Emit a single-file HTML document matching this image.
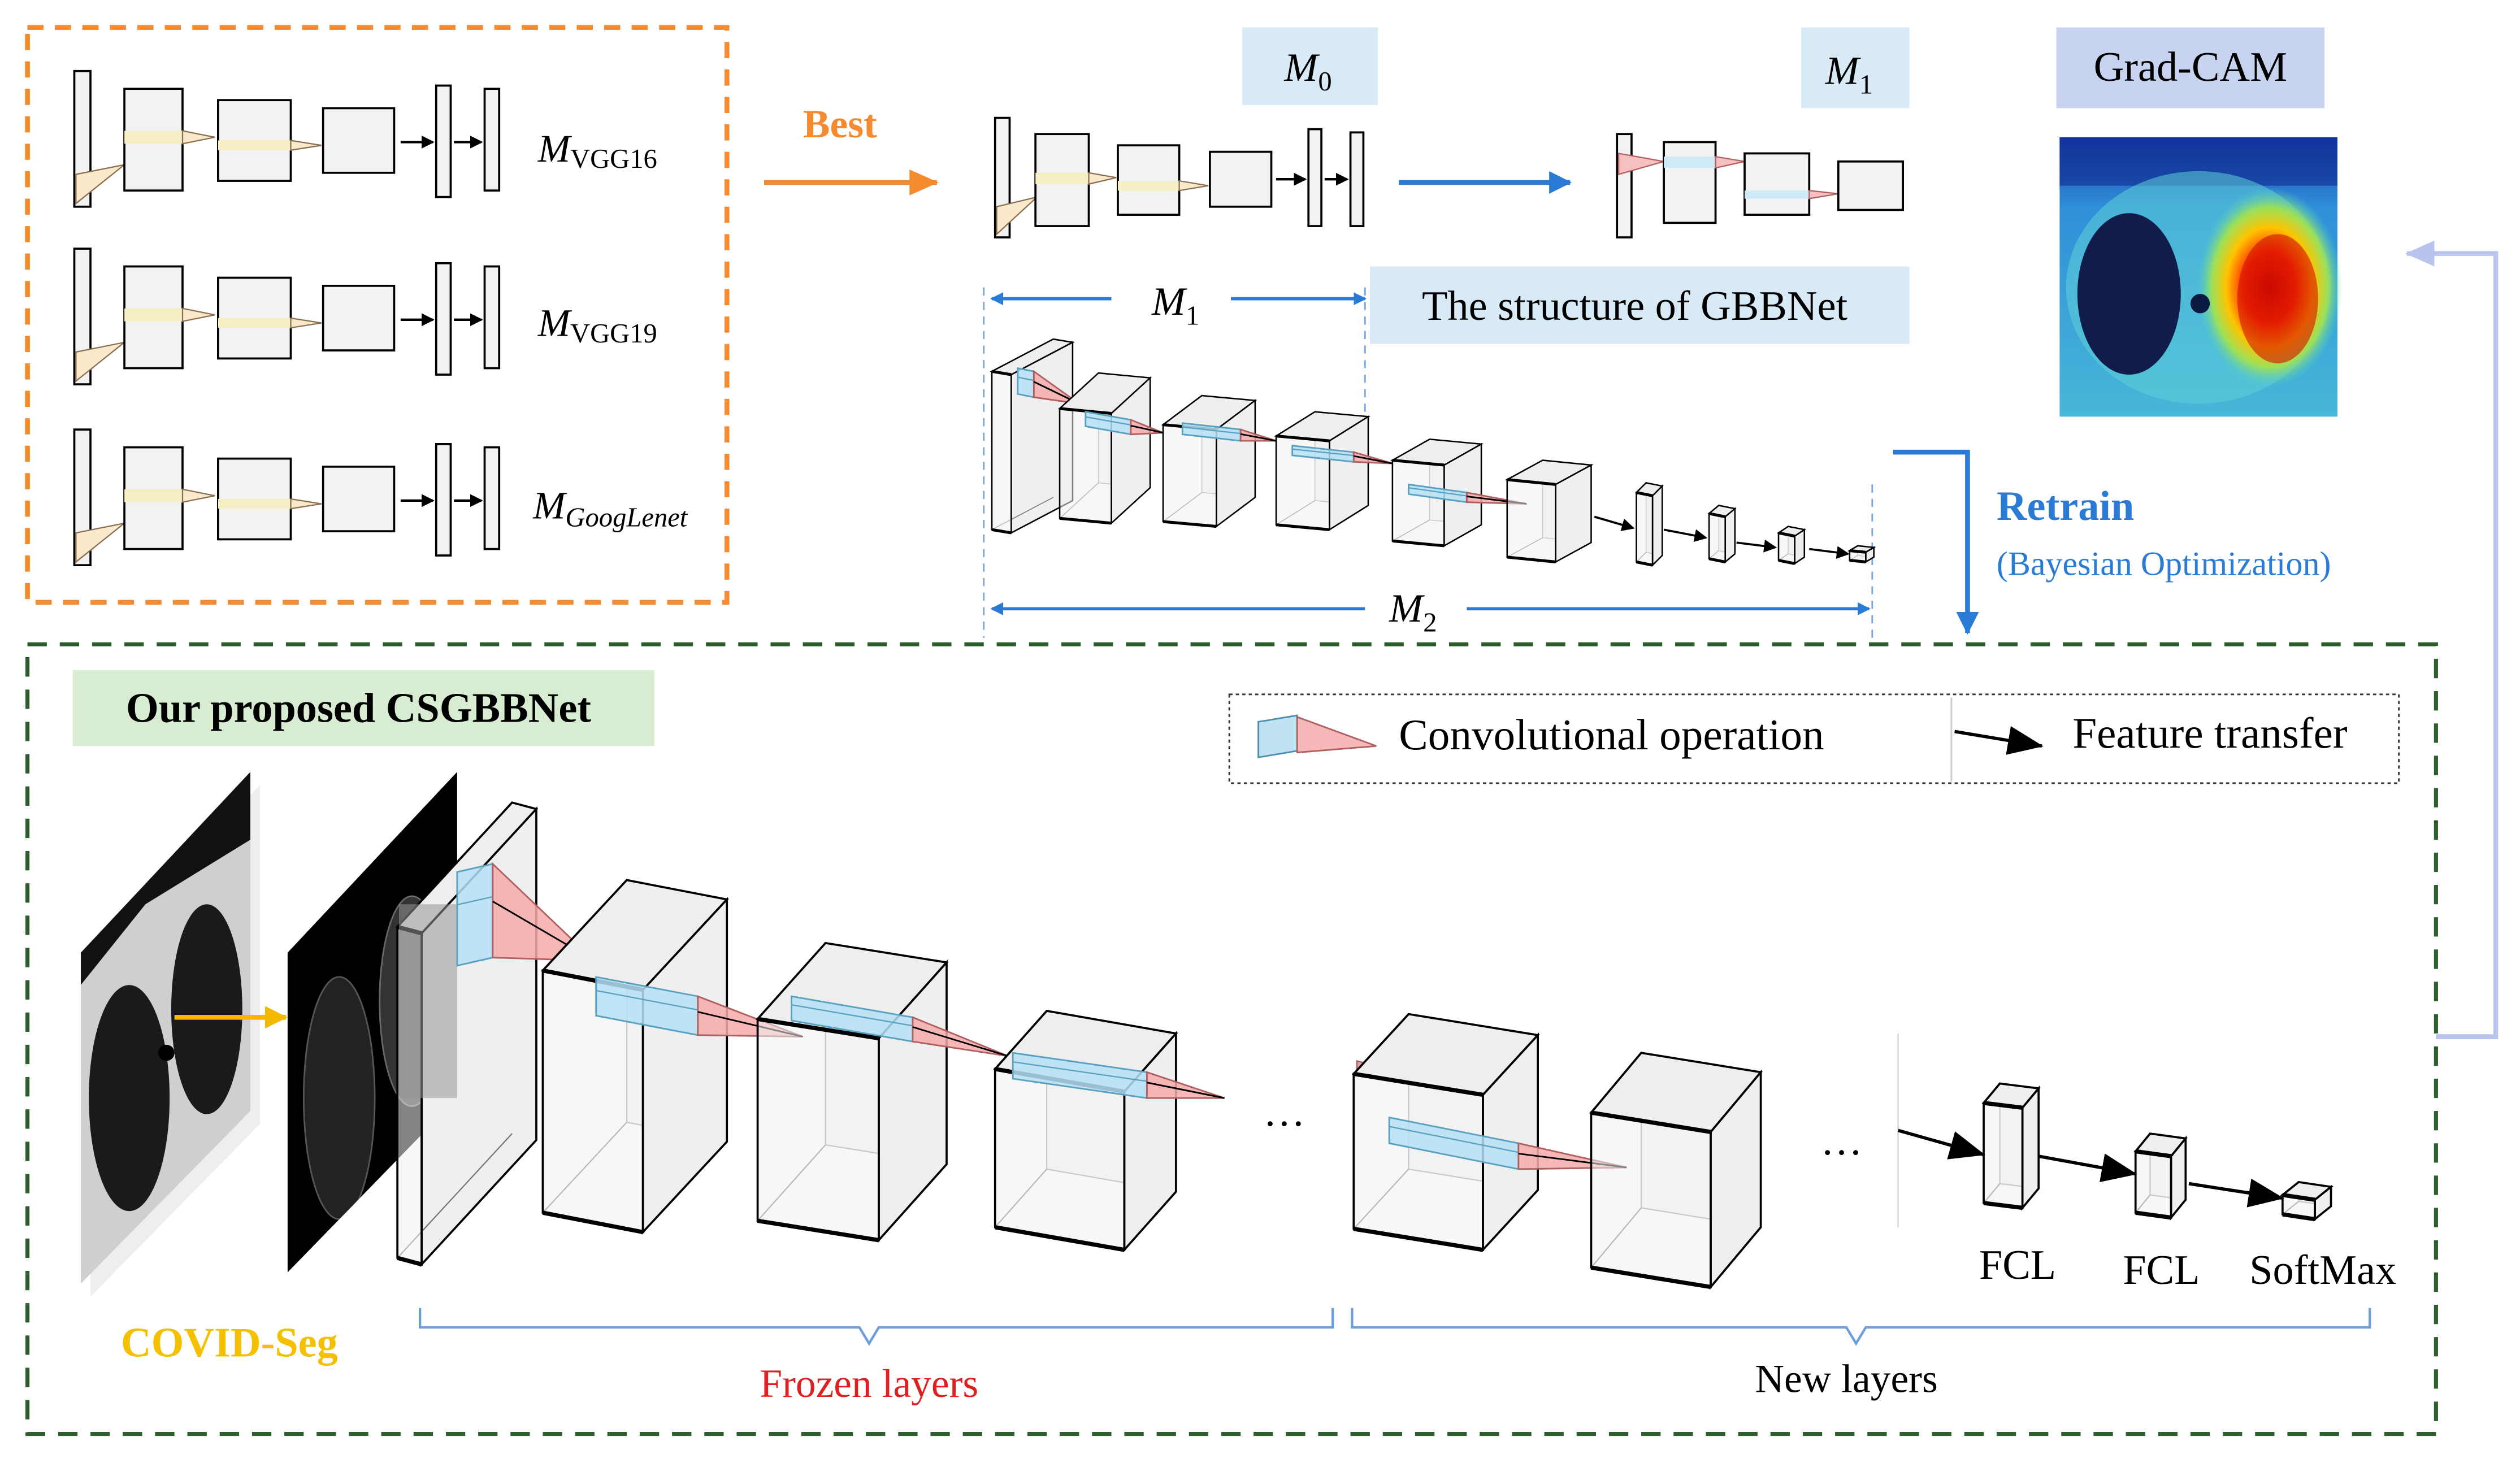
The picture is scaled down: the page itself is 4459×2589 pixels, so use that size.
<!DOCTYPE html>
<html><head><meta charset="utf-8"><style>
html,body{margin:0;padding:0;background:#fff;}
svg{display:block;}
text{font-family:"Liberation Serif",serif;}
</style></head><body>
<svg id="s" width="4459" height="2589" viewBox="0 0 1560 906" preserveAspectRatio="none" xmlns="http://www.w3.org/2000/svg">
<defs>
<marker id="ab" markerWidth="8" markerHeight="8" refX="7" refY="4" orient="auto" markerUnits="userSpaceOnUse"><path d="M0,0 L8,4 L0,8 z" fill="#2a7bd6"/></marker>
<marker id="abl" markerWidth="14" markerHeight="14" refX="13" refY="7" orient="auto" markerUnits="userSpaceOnUse"><path d="M0,0 L14,7 L0,14 z" fill="#2a7bd6"/></marker>
<marker id="ao" markerWidth="18" markerHeight="16" refX="17" refY="8" orient="auto" markerUnits="userSpaceOnUse"><path d="M0,0 L18,8 L0,16 z" fill="#f58a2e"/></marker>
<marker id="al" markerWidth="18" markerHeight="16" refX="17" refY="8" orient="auto" markerUnits="userSpaceOnUse"><path d="M0,0 L18,8 L0,16 z" fill="#b8c4ee"/></marker>
<marker id="ak" markerWidth="22" markerHeight="18" refX="21" refY="9" orient="auto" markerUnits="userSpaceOnUse"><path d="M0,0 L22,9 L0,18 z" fill="#000"/></marker>
<marker id="aks" markerWidth="8" markerHeight="8" refX="7" refY="4" orient="auto" markerUnits="userSpaceOnUse"><path d="M0,0 L8,4 L0,8 z" fill="#000"/></marker>
<marker id="ay" markerWidth="14" markerHeight="14" refX="13" refY="7" orient="auto" markerUnits="userSpaceOnUse"><path d="M0,0 L14,7 L0,14 z" fill="#f5b800"/></marker>
<radialGradient id="hot" cx="0.5" cy="0.5" r="0.5">
<stop offset="0" stop-color="#c00000"/><stop offset="0.35" stop-color="#ff2a00"/><stop offset="0.6" stop-color="#ffc400"/><stop offset="0.8" stop-color="#9be05a"/><stop offset="1" stop-color="#4fd0c8" stop-opacity="0"/></radialGradient>
<linearGradient id="gbg" x1="0" y1="0" x2="0" y2="1"><stop offset="0" stop-color="#1a3fb0"/><stop offset="0.25" stop-color="#2f8fd8"/><stop offset="1" stop-color="#46b8d8"/></linearGradient>
<clipPath id="ctc"><polygon points="50,590 155,478 155,688 50,795"/></clipPath>
<clipPath id="bkc"><polygon points="178,590 283,478 283,680 178,788"/></clipPath>
</defs>

<rect x="17" y="17" width="433" height="356" fill="none" stroke="#f58a2e" stroke-width="3" stroke-dasharray="10,7"/>
<rect x="17" y="399" width="1491" height="489" fill="none" stroke="#2d5e2d" stroke-width="2.5" stroke-dasharray="12,8"/>

<g id="rows"></g>
<text x="333" y="100" font-size="24" font-style="italic">M</text><text x="353" y="104" font-size="17">VGG16</text>
<text x="333" y="208" font-size="24" font-style="italic">M</text><text x="353" y="212" font-size="17">VGG19</text>
<text x="330" y="321" font-size="24" font-style="italic">M</text><text x="350" y="326" font-size="17" font-style="italic">GoogLenet</text>

<text x="520" y="85" font-size="25" font-weight="bold" fill="#f58a2e" text-anchor="middle" font-family="Liberation Sans">Best</text>
<line x1="473" y1="113" x2="580" y2="113" stroke="#f58a2e" stroke-width="3" marker-end="url(#ao)"/>

<rect x="769" y="17" width="84" height="48" fill="#d9eaf7"/>
<text x="795" y="50" font-size="25" font-style="italic">M</text><text x="816" y="56" font-size="17">0</text>
<rect x="1115" y="17" width="67" height="50" fill="#d9eaf7"/>
<text x="1130" y="52" font-size="25" font-style="italic">M</text><text x="1151" y="58" font-size="17">1</text>
<rect x="1273" y="17" width="166" height="50" fill="#c8d3f0"/>
<text x="1356" y="50" font-size="26" text-anchor="middle">Grad-CAM</text>

<g id="mid"></g>
<line x1="866" y1="113" x2="972" y2="113" stroke="#2a7bd6" stroke-width="3" marker-end="url(#abl)"/>

<g>
<rect x="1275" y="85" width="172" height="173" fill="url(#gbg)"/>
<rect x="1275" y="85" width="172" height="30" fill="#0d2a8e" opacity="0.6"/>
<ellipse cx="1361" cy="178" rx="82" ry="72" fill="#5fd0d8" opacity="0.55"/>
<ellipse cx="1318" cy="182" rx="32" ry="50" fill="#101c4a"/>
<ellipse cx="1405" cy="178" rx="45" ry="62" fill="url(#hot)"/>
<ellipse cx="1410" cy="185" rx="25" ry="40" fill="#d01000" opacity="0.6"/>
<circle cx="1362" cy="188" r="6" fill="#0a1a40"/>
</g>

<line x1="688" y1="185" x2="614" y2="185" stroke="#2a7bd6" stroke-width="2" marker-end="url(#ab)"/>
<line x1="762" y1="185" x2="845" y2="185" stroke="#2a7bd6" stroke-width="2" marker-end="url(#ab)"/>
<text x="713" y="195" font-size="25" font-style="italic">M</text><text x="734" y="201" font-size="17">1</text>
<line x1="609" y1="178" x2="609" y2="395" stroke="#7aa6dc" stroke-width="1" stroke-dasharray="5,4"/>
<line x1="845" y1="178" x2="845" y2="255" stroke="#7aa6dc" stroke-width="1" stroke-dasharray="5,4"/>
<line x1="1159" y1="300" x2="1159" y2="395" stroke="#7aa6dc" stroke-width="1" stroke-dasharray="5,4"/>
<rect x="848" y="165" width="334" height="48" fill="#d9eaf7"/>
<text x="1012" y="198" font-size="26" text-anchor="middle">The structure of GBBNet</text>

<g id="small"></g>

<line x1="845" y1="377" x2="614" y2="377" stroke="#2a7bd6" stroke-width="2" marker-end="url(#ab)"/>
<line x1="908" y1="377" x2="1157" y2="377" stroke="#2a7bd6" stroke-width="2" marker-end="url(#ab)"/>
<text x="860" y="385" font-size="25" font-style="italic">M</text><text x="881" y="391" font-size="17">2</text>

<polyline points="1172,280 1218,280 1218,392" fill="none" stroke="#2a7bd6" stroke-width="3" marker-end="url(#abl)"/>
<text x="1236" y="322" font-size="26" font-weight="bold" fill="#2a7bd6">Retrain</text>
<text x="1236" y="356" font-size="21" fill="#2a7bd6">(Bayesian Optimization)</text>

<polyline points="1508,642 1545,642 1545,157 1490,157" fill="none" stroke="#b8c4ee" stroke-width="3" marker-end="url(#al)"/>

<rect x="45" y="415" width="360" height="47" fill="#d8ecd2"/>
<text x="222" y="447" font-size="26" font-weight="bold" text-anchor="middle">Our proposed CSGBBNet</text>

<rect x="761" y="430" width="724" height="55" fill="none" stroke="#333" stroke-width="1" stroke-dasharray="2,2"/>
<line x1="1208" y1="432" x2="1208" y2="484" stroke="#ccc" stroke-width="1"/>
<polygon points="779,447 803,443 803,465 779,469" fill="#bfe3f2" stroke="#4a8fb0" stroke-width="1"/>
<polygon points="803,444 803,466 852,462" fill="#f6b8b8" stroke="#b06060" stroke-width="1"/>
<text x="866" y="464" font-size="27">Convolutional operation</text>
<line x1="1210" y1="453" x2="1264" y2="462" stroke="#000" stroke-width="2" marker-end="url(#ak)"/>
<text x="1283" y="463" font-size="27">Feature transfer</text>

<polygon points="56,598 161,486 161,696 56,803" fill="#ddd" opacity="0.5"/>
<g clip-path="url(#ctc)">
<rect x="40" y="470" width="130" height="340" fill="#cfcfcf"/>
<polygon points="50,470 155,470 155,520 90,560 50,610" fill="#111"/>
<ellipse cx="80" cy="680" rx="25" ry="70" fill="#1a1a1a"/>
<ellipse cx="128" cy="625" rx="22" ry="65" fill="#1a1a1a"/>
<circle cx="103" cy="652" r="5" fill="#000"/>
</g>
<line x1="108" y1="630" x2="177" y2="630" stroke="#f5b800" stroke-width="3" marker-end="url(#ay)"/>
<g clip-path="url(#bkc)">
<rect x="170" y="470" width="120" height="330" fill="#000"/>
<ellipse cx="210" cy="680" rx="22" ry="75" fill="#222" stroke="#555" stroke-width="1"/>
<ellipse cx="255" cy="620" rx="20" ry="65" fill="#333" stroke="#666" stroke-width="1"/>
</g>

<g id="big"></g>

<text x="795" y="697" font-size="26" text-anchor="middle">…</text>
<text x="1140" y="715" font-size="26" text-anchor="middle">…</text>
<line x1="1175" y1="640" x2="1175" y2="760" stroke="#ddd" stroke-width="1"/>
<line x1="1175" y1="700" x2="1228" y2="715" stroke="#000" stroke-width="2" marker-end="url(#ak)"/>
<line x1="1262" y1="716" x2="1322" y2="727" stroke="#000" stroke-width="2" marker-end="url(#ak)"/>
<line x1="1355" y1="733" x2="1413" y2="742" stroke="#000" stroke-width="2" marker-end="url(#ak)"/>
<text x="1249" y="792" font-size="26" text-anchor="middle">FCL</text>
<text x="1338" y="795" font-size="26" text-anchor="middle">FCL</text>
<text x="1438" y="795" font-size="26" text-anchor="middle">SoftMax</text>

<path d="M260,810 L260,822 L532,822 L538,832 L544,822 L825,822 L825,810" fill="none" stroke="#6a9ee0" stroke-width="1.5"/>
<path d="M837,810 L837,822 L1143,822 L1149,832 L1155,822 L1467,822 L1467,810" fill="none" stroke="#6a9ee0" stroke-width="1.5"/>
<text x="538" y="865" font-size="25" fill="#e02020" text-anchor="middle">Frozen layers</text>
<text x="1143" y="862" font-size="25" text-anchor="middle">New layers</text>
<text x="142" y="840" font-size="26" font-weight="bold" fill="#f5c000" text-anchor="middle">COVID-Seg</text>
</svg>
<script>
var NS="http://www.w3.org/2000/svg";
function el(g,t,a){var e=document.createElementNS(NS,t);for(var k in a)e.setAttribute(k,a[k]);document.getElementById(g).appendChild(e);return e;}
function P(a){return a.map(function(p){return p[0]+","+p[1];}).join(" ");}
function cube(g,x,y,w,h,s,dx,dy,sw){
 sw=sw||1.3;
 var F=[[x,y],[x+w,y+s],[x+w,y+h+s],[x,y+h]];
 var B=F.map(function(p){return [p[0]+dx,p[1]+dy];});
 el(g,"polygon",{points:P(B),fill:"#f4f4f4",stroke:"#999","stroke-width":sw*0.6});
 el(g,"polygon",{points:P([F[0],F[1],B[1],B[0]]),fill:"#eeeeee",stroke:"#000","stroke-width":sw});
 el(g,"polygon",{points:P([F[1],F[2],B[2],B[1]]),fill:"#efefef",stroke:"#000","stroke-width":sw});
 el(g,"line",{x1:F[3][0],y1:F[3][1],x2:B[3][0],y2:B[3][1],stroke:"#777","stroke-width":sw*0.6});
 el(g,"polygon",{points:P(F),fill:"rgba(240,240,240,0.55)",stroke:"#000","stroke-width":sw});
 el(g,"line",{x1:F[0][0],y1:F[0][1],x2:F[1][0],y2:F[1][1],stroke:"#000","stroke-width":sw*2});
 el(g,"line",{x1:F[3][0],y1:F[3][1],x2:F[2][0],y2:F[2][1],stroke:"#000","stroke-width":sw*2});
}
function conv(g,x1,ya,x2,yb,h,tx,ty){
 el(g,"polygon",{points:P([[x1,ya],[x2,yb],[x2,yb+h],[x1,ya+h]]),fill:"rgba(180,225,245,0.85)",stroke:"#5aa0c0","stroke-width":1});
 el(g,"line",{x1:x1,y1:ya+h*0.35,x2:x2,y2:yb+h*0.35,stroke:"#5aa0c0","stroke-width":0.8});
 el(g,"polygon",{points:P([[x2,yb],[x2,yb+h],[tx,ty]]),fill:"rgba(245,170,170,0.85)",stroke:"#b06060","stroke-width":1});
 el(g,"line",{x1:x2,y1:yb+h*0.4,x2:tx,y2:ty,stroke:"#000","stroke-width":1});
}
function flat(g,x,y,w,h){el(g,"rect",{x:x,y:y,width:w,height:h,fill:"#f2f2f2",stroke:"#000","stroke-width":1.3});}
[0,110,222].forEach(function(o){
 flat("rows",46,44+o,10,84);
 el("rows","polygon",{points:P([[47,108+o],[47,126+o],[77,102+o]]),fill:"#fbe9cc",stroke:"#8a7050","stroke-width":0.8});
 flat("rows",77,55+o,36,63);
 el("rows","rect",{x:77,y:81+o,width:36,height:8,fill:"#f6efc4"});
 el("rows","polygon",{points:P([[113,81+o],[113,89+o],[133,85+o]]),fill:"#fbe9cc",stroke:"#8a7050","stroke-width":0.8});
 flat("rows",135,62+o,45,50);
 el("rows","rect",{x:135,y:87+o,width:45,height:6,fill:"#f6efc4"});
 el("rows","polygon",{points:P([[180,87+o],[180,93+o],[199,90+o]]),fill:"#fbe9cc",stroke:"#8a7050","stroke-width":0.8});
 flat("rows",200,67+o,44,40);
 el("rows","line",{x1:248,y1:88+o,x2:268,y2:88+o,stroke:"#000","stroke-width":1.5,"marker-end":"url(#aks)"});
 flat("rows",270,53+o,9,69);
 el("rows","line",{x1:281,y1:88+o,x2:298,y2:88+o,stroke:"#000","stroke-width":1.5,"marker-end":"url(#aks)"});
 flat("rows",300,55+o,9,63);
});
flat("mid",616,73,9,74);
el("mid","polygon",{points:P([[617,128],[617,145],[642,122]]),fill:"#fbe9cc",stroke:"#8a7050","stroke-width":0.8});
flat("mid",641,83,33,57);
el("mid","rect",{x:641,y:107,width:33,height:7,fill:"#f6efc4"});
el("mid","polygon",{points:P([[674,107],[674,114],[691,110]]),fill:"#fbe9cc",stroke:"#8a7050","stroke-width":0.8});
flat("mid",692,90,38,43);
el("mid","rect",{x:692,y:112,width:38,height:6,fill:"#f6efc4"});
el("mid","polygon",{points:P([[730,112],[730,118],[748,115]]),fill:"#fbe9cc",stroke:"#8a7050","stroke-width":0.8});
flat("mid",749,94,38,34);
el("mid","line",{x1:790,y1:111,x2:808,y2:111,stroke:"#000","stroke-width":1.5,"marker-end":"url(#aks)"});
flat("mid",810,80,8,60);
el("mid","line",{x1:820,y1:111,x2:834,y2:111,stroke:"#000","stroke-width":1.5,"marker-end":"url(#aks)"});
flat("mid",836,82,8,58);
flat("mid",1001,83,9,64);
el("mid","polygon",{points:P([[1002,95],[1002,108],[1030,100]]),fill:"#f6c0c0",stroke:"#b06060","stroke-width":0.8});
flat("mid",1030,88,32,50);
el("mid","rect",{x:1030,y:97,width:32,height:7,fill:"#cdeaf6"});
el("mid","polygon",{points:P([[1062,97],[1062,104],[1080,100]]),fill:"#f6c0c0","stroke":"#b06060","stroke-width":0.8});
flat("mid",1080,95,40,38);
el("mid","rect",{x:1080,y:118,width:40,height:5,fill:"#cdeaf6"});
el("mid","polygon",{points:P([[1120,118],[1120,123],[1138,120]]),fill:"#f6c0c0",stroke:"#b06060","stroke-width":0.8});
flat("mid",1138,100,40,30);
cube("small",614,230,12,98,2,38,-20,0.9);
conv("small",630,228,640,230,16,668,250);
cube("small",656,253,32,68,3,24,-22,0.9);
conv("small",672,255,700,260,9,720,268);
cube("small",720,263,33,60,3,24,-18,0.9);
conv("small",732,262,768,266,7,790,273);
cube("small",790,270,33,55,3,24,-15,0.9);
conv("small",800,276,838,280,6,862,287);
cube("small",862,285,32,50,3,23,-13,0.9);
conv("small",872,300,908,305,6,945,312);
cube("small",933,297,30,48,3,22,-12,0.9);
cube("small",1013,305,10,43,2,6,-6,0.9);
cube("small",1058,318,10,28,2,6,-5,0.9);
cube("small",1101,330,10,17,2,6,-4,0.9);
cube("small",1145,341,10,6,1,5,-3,0.9);
[[987,320,1011,327],[1030,328,1056,333],[1075,336,1099,339],[1120,340,1144,343]].forEach(function(a){
 el("small","line",{x1:a[0],y1:a[1],x2:a[2],y2:a[3],stroke:"#000","stroke-width":1.3,"marker-end":"url(#aks)"});});
cube("big",246,574,15,205,4,71,-77);
el("big","rect",{x:247,y:560,width:36,height:120,fill:"rgba(150,150,150,0.55)"});
conv("big",283,540,305,535,58,368,595);
cube("big",336,601,62,150,12,52,-56);
conv("big",369,605,432,617,24,497,642);
cube("big",469,631,75,125,12,42,-47);
conv("big",490,617,565,630,15,624,654);
cube("big",616,662,80,98,14,32,-36);
conv("big",627,652,710,664,16,758,680);
el("big","polygon",{points:P([[840,657],[840,663],[860,662]]),fill:"#e0a0a0",stroke:"#a06060","stroke-width":0.8});
cube("big",838,665,80,96,13,34,-37);
conv("big",860,692,940,708,16,1007,723);
cube("big",985,689,74,96,12,31,-37);
cube("big",1228,683,24,62,3,10,-12);
cube("big",1322,713,22,38,3,9,-11);
cube("big",1413,740,20,12,3,10,-8);
</script>
</body></html>
